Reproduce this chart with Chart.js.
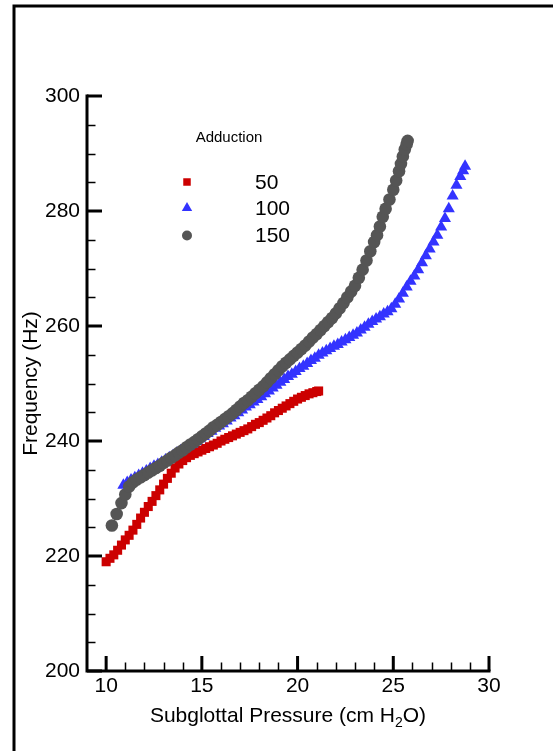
<!DOCTYPE html>
<html>
<head>
<meta charset="utf-8">
<title>Frequency vs Subglottal Pressure</title>
<script src="https://cdn.jsdelivr.net/npm/chart.js@4.4.1/dist/chart.umd.min.js"></script>
<style>
  html, body { margin: 0; padding: 0; background: #fff; }
  #wrap { width: 553px; height: 751px; }
</style>
</head>
<body>
<div id="wrap"><canvas id="freqChart" width="553" height="751"></canvas></div>
<script>
// series names (adduction level)
var adductionLabels = ["50", "100", "150"];

// [subglottal pressure (cm H2O), frequency (Hz)]
var adduction50 = [
  [10.0,219.0],[10.2,219.6],[10.4,220.2],[10.6,221.0],[10.8,221.9],[11.0,222.8],[11.2,223.6],
  [11.4,224.5],[11.6,225.5],[11.8,226.6],[12.0,227.6],[12.2,228.6],[12.4,229.5],[12.6,230.5],
  [12.8,231.5],[13.0,232.5],[13.2,233.5],[13.4,234.4],[13.6,235.3],[13.8,236.0],[14.0,236.6],
  [14.2,237.1],[14.4,237.5],[14.6,237.8],[14.8,238.1],[15.0,238.4],[15.2,238.7],[15.4,239.0],
  [15.6,239.3],[15.8,239.6],[16.0,240.0],[16.2,240.3],[16.4,240.6],[16.6,240.9],[16.8,241.2],
  [17.0,241.5],[17.2,241.8],[17.4,242.1],[17.6,242.5],[17.8,242.9],[18.0,243.2],[18.2,243.6],
  [18.4,244.0],[18.6,244.4],[18.8,244.9],[19.0,245.3],[19.2,245.7],[19.4,246.1],[19.6,246.5],
  [19.8,246.9],[20.0,247.3],[20.2,247.6],[20.4,247.9],[20.6,248.2],[20.8,248.4],[21.0,248.6],
  [21.1,248.7]
];
var adduction100 = [
  [10.9,232.3],[11.1,232.8],[11.3,233.2],[11.5,233.6],[11.7,234.0],[11.9,234.4],[12.1,234.8],
  [12.3,235.2],[12.5,235.6],[12.7,235.9],[12.9,236.3],[13.1,236.7],[13.3,237.1],[13.5,237.5],
  [13.7,237.9],[13.9,238.3],[14.1,238.7],[14.3,239.1],[14.5,239.5],[14.7,239.9],[14.9,240.4],
  [15.1,240.8],[15.3,241.3],[15.5,241.7],[15.7,242.2],[15.9,242.6],[16.1,243.0],[16.3,243.5],
  [16.5,244.0],[16.7,244.4],[16.9,244.9],[17.1,245.4],[17.3,245.9],[17.5,246.3],[17.7,246.8],
  [17.9,247.2],[18.1,247.7],[18.3,248.2],[18.5,248.7],[18.7,249.2],[18.9,249.7],[19.1,250.2],
  [19.3,250.7],[19.5,251.2],[19.7,251.6],[19.9,252.1],[20.1,252.6],[20.3,253.0],[20.5,253.5],
  [20.7,254.0],[20.9,254.4],[21.1,254.9],[21.3,255.3],[21.5,255.7],[21.7,256.1],[21.9,256.5],
  [22.1,256.8],[22.3,257.2],[22.5,257.6],[22.7,258.0],[22.9,258.4],[23.1,258.8],[23.3,259.3],
  [23.5,259.8],[23.7,260.3],[23.9,260.8],[24.1,261.2],[24.3,261.6],[24.5,262.1],[24.7,262.5],
  [24.9,263.0],[25.1,263.8],[25.3,264.7],[25.5,265.7],[25.7,266.8],[25.9,267.8],[26.1,268.7],
  [26.3,269.8],[26.5,271.0],[26.7,272.2],[26.9,273.4],[27.1,274.6],[27.3,275.8],[27.5,277.2],
  [27.7,278.7],[27.9,280.4],[28.1,282.6],[28.3,284.5],[28.5,286.0],[28.65,287.0],[28.75,287.8]
];
var adduction150 = [
  [10.3,225.3],[10.55,227.3],[10.8,229.2],[11.0,230.7],[11.2,232.1],[11.4,232.8],[11.6,233.3],
  [11.8,233.7],[12.0,234.1],[12.2,234.5],[12.4,234.9],[12.6,235.3],[12.8,235.7],[13.0,236.2],
  [13.2,236.6],[13.4,237.1],[13.6,237.5],[13.8,238.0],[14.0,238.4],[14.2,238.9],[14.4,239.4],
  [14.6,239.8],[14.8,240.3],[15.0,240.8],[15.2,241.3],[15.4,241.8],[15.6,242.4],[15.8,242.8],
  [16.0,243.3],[16.2,243.8],[16.4,244.3],[16.6,244.8],[16.8,245.4],[17.0,246.0],[17.2,246.6],
  [17.4,247.1],[17.6,247.7],[17.8,248.3],[18.0,248.9],[18.2,249.5],[18.4,250.2],[18.6,250.9],
  [18.8,251.6],[19.0,252.3],[19.2,253.0],[19.4,253.6],[19.6,254.2],[19.8,254.8],[20.0,255.4],
  [20.2,256.0],[20.4,256.6],[20.6,257.3],[20.8,258.0],[21.0,258.6],[21.2,259.3],[21.4,260.0],
  [21.6,260.7],[21.8,261.4],[22.0,262.2],[22.2,263.1],[22.4,264.0],[22.6,265.0],[22.8,266.0],
  [23.0,267.0],[23.2,268.4],[23.4,269.8],[23.6,271.4],[23.8,273.0],[24.0,274.6],[24.15,275.8],
  [24.3,277.3],[24.45,279.0],[24.6,280.4],[24.8,282.0],[25.0,283.7],[25.15,285.3],[25.3,286.9],
  [25.4,288.2],[25.5,289.5],[25.6,290.7],[25.7,291.6],[25.75,292.2]
];

// axis ticks
var xMajorTicks = [10, 15, 20, 25, 30];
var xMinorTicks = [11, 12, 13, 14, 16, 17, 18, 19, 21, 22, 23, 24, 26, 27, 28, 29];
var yMajorTicks = [200, 220, 240, 260, 280, 300];
var yMinorTicks = [205, 210, 215, 225, 230, 235, 245, 250, 255, 265, 270, 275, 285, 290, 295];

var FONT = '"Liberation Sans", Arial, Helvetica, sans-serif';
var legendRadius = [5.3, 6, 5];

function toPoints(rows) {
  return rows.map(function(r) { return { x: r[0], y: r[1] }; });
}

var chartData = {
  datasets: [{
      label: adductionLabels[0],
      data: toPoints(adduction50),
      pointStyle: 'rect',
      pointRadius: 6.4,
      backgroundColor: '#cc0000',
      borderWidth: 0,
      order: 2
    }, {
      label: adductionLabels[1],
      data: toPoints(adduction100),
      pointStyle: 'triangle',
      pointRadius: 7,
      backgroundColor: '#3333ff',
      borderWidth: 0,
      order: 1
    }, {
      label: adductionLabels[2],
      data: toPoints(adduction150),
      pointStyle: 'circle',
      pointRadius: 6.3,
      backgroundColor: '#555555',
      borderWidth: 0,
      order: 0
    }]
};

// frame, axis lines, inward ticks, x title with subscript, legend
var decor = {
  id: 'decor',
  afterDatasetsDraw: function(chart) {
    var ctx = chart.ctx, xs = chart.scales.x, ys = chart.scales.y;
    var ax = xs.left, ay = ys.bottom;
    ctx.save();
    ctx.strokeStyle = '#000';
    ctx.lineCap = 'butt';

    ctx.lineWidth = 1.5;
    ctx.beginPath();
    xMinorTicks.forEach(function(v) {
      var px = Math.round(xs.getPixelForValue(v)) + 0.5;
      ctx.moveTo(px, ay); ctx.lineTo(px, ay - 8.5);
    });
    yMinorTicks.forEach(function(v) {
      var py = Math.round(ys.getPixelForValue(v)) + 0.5;
      ctx.moveTo(ax, py); ctx.lineTo(ax + 8.5, py);
    });
    ctx.stroke();

    ctx.lineWidth = 3;
    ctx.beginPath();
    xMajorTicks.forEach(function(v) {
      var px = xs.getPixelForValue(v);
      ctx.moveTo(px, ay); ctx.lineTo(px, ay - 15);
    });
    yMajorTicks.forEach(function(v) {
      var py = ys.getPixelForValue(v);
      ctx.moveTo(ax, py); ctx.lineTo(ax + 15, py);
    });
    ctx.stroke();

    ctx.lineCap = 'square';
    ctx.beginPath();
    ctx.moveTo(ax, ys.top);
    ctx.lineTo(ax, ay);
    ctx.lineTo(xs.right, ay);
    ctx.stroke();
    ctx.restore();
  },
  afterDraw: function(chart) {
    var ctx = chart.ctx, xs = chart.scales.x;
    ctx.save();
    // outer frame (left and top edges)
    ctx.strokeStyle = '#000';
    ctx.lineWidth = 3;
    ctx.lineCap = 'butt';
    ctx.beginPath();
    ctx.moveTo(14, 751); ctx.lineTo(14, 6); ctx.lineTo(553, 6);
    ctx.stroke();

    // x axis title: Subglottal Pressure (cm H2O)
    ctx.fillStyle = '#000';
    ctx.textBaseline = 'alphabetic';
    ctx.textAlign = 'left';
    var big = '21px ' + FONT, small = '14px ' + FONT;
    var partA = 'Subglottal Pressure (cm H', partB = '2', partC = 'O)';
    ctx.font = big;
    var wA = ctx.measureText(partA).width, wC = ctx.measureText(partC).width;
    ctx.font = small;
    var wB = ctx.measureText(partB).width;
    var cx = (xs.left + xs.right) / 2;
    var tx = cx - (wA + wB + wC) / 2, ty = 722;
    ctx.font = big;
    ctx.fillText(partA, tx, ty);
    ctx.font = small;
    ctx.fillText(partB, tx + wA, ty + 5);
    ctx.font = big;
    ctx.fillText(partC, tx + wA + wB, ty);

    // legend
    ctx.font = '15px ' + FONT;
    ctx.textAlign = 'center';
    ctx.textBaseline = 'middle';
    ctx.fillText('Adduction', 229, 138);
    var rowsY = [182, 208, 235.5];
    ctx.font = '21px ' + FONT;
    ctx.textAlign = 'left';
    chart.data.datasets.forEach(function(ds, i) {
      ctx.fillStyle = ds.backgroundColor;
      Chart.helpers.drawPoint(ctx, {
        pointStyle: ds.pointStyle,
        radius: legendRadius[i],
        borderWidth: 0,
        rotation: 0
      }, 187, rowsY[i]);
      ctx.fillStyle = '#000';
      ctx.fillText(ds.label, 255, rowsY[i] + 1);
    });
    ctx.restore();
  }
};

var freqChart = new Chart(document.getElementById('freqChart'), {
  type: 'scatter',
  data: chartData,
  options: {
    responsive: false,
    animation: false,
    devicePixelRatio: 1,
    layout: { padding: { left: 0, top: 96, right: 64, bottom: 0 } },
    plugins: { legend: { display: false }, tooltip: { enabled: false } },
    elements: { point: { hoverRadius: 0 } },
    scales: {
      x: {
        type: 'linear',
        min: 9, max: 30,
        afterBuildTicks: function(scale) {
          scale.ticks = xMajorTicks.map(function(v) { return { value: v }; });
        },
        afterFit: function(scale) { scale.height = 80; },
        grid: { display: false, drawTicks: false },
        border: { display: false },
        ticks: { color: '#000', padding: 3, maxRotation: 0, autoSkip: false, font: { family: FONT, size: 21 } }
      },
      y: {
        type: 'linear',
        min: 200, max: 300,
        afterBuildTicks: function(scale) {
          scale.ticks = yMajorTicks.map(function(v) { return { value: v }; });
        },
        afterFit: function(scale) { scale.width = 87; },
        grid: { display: false, drawTicks: false },
        border: { display: false },
        title: {
          display: true,
          text: 'Frequency (Hz)',
          color: '#000',
          padding: { top: 19, bottom: 0 },
          font: { family: FONT, size: 21 }
        },
        ticks: { color: '#000', padding: 7, autoSkip: false, font: { family: FONT, size: 21 } }
      }
    }
  },
  plugins: [decor]
});
</script>
</body>
</html>
